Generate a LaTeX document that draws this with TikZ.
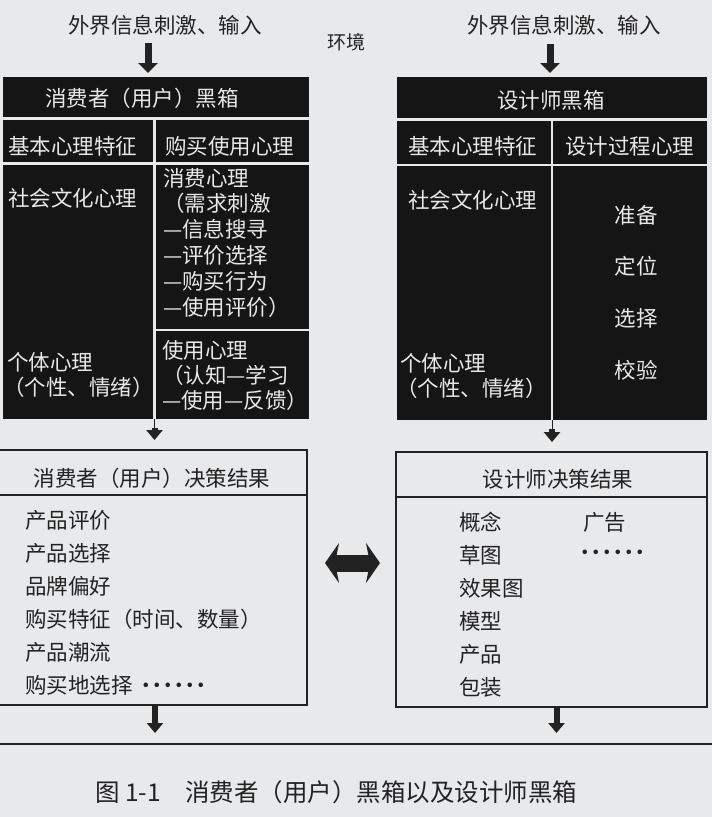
\documentclass[tikz,border=0pt]{standalone}
\usepackage{fontspec}
\newfontfamily\cjk{Noto Sans CJK SC}
\usetikzlibrary{arrows.meta}

\definecolor{paper}{HTML}{E8E9EB}
\definecolor{boxblack}{HTML}{151515}
\definecolor{chalk}{HTML}{E8E8E8}
\definecolor{ink}{HTML}{222222}

% six centred dots
\newcommand\moredots{\makebox[11pt]{·}\makebox[11pt]{·}\makebox[11pt]{·}\makebox[11pt]{·}\makebox[11pt]{·}\makebox[11pt]{·}}

\begin{document}
\begin{tikzpicture}[x=1pt, y=-1pt,
  blackbox/.style={rectangle, fill=boxblack, inner sep=0pt, outer sep=0pt, anchor=north west},
  resbox/.style={rectangle, draw=ink, line width=1.5pt, inner sep=0pt, outer sep=0pt, anchor=north west},
  gap/.style={draw=paper, line width=2.5pt},
  wtxt/.style={text=chalk, inner sep=0pt, font=\cjk\fontsize{21.5}{26}\selectfont},
  btxt/.style={text=ink, inner sep=0pt, font=\cjk\fontsize{21.5}{26}\selectfont},
  fatin/.style={draw=ink, line width=7pt, -{Triangle[width=19pt, length=10pt]}},
  fatout/.style={draw=ink, line width=6pt, -{Triangle[width=16pt, length=10pt]}},
  swap/.style={draw=ink, line width=17pt, {Stealth[width=40pt, length=14pt, inset=4pt]}-{Stealth[width=40pt, length=14pt, inset=4pt]}},
]

  % page
  \useasboundingbox (0,0) rectangle (712,817);
  \fill[paper] (0,0) rectangle (712,817);

  % inputs from the environment
  \node[btxt] (inC) at (165,25) {外界信息刺激、输入};
  \node[btxt] (inD) at (564,25) {外界信息刺激、输入};
  \node[btxt, font=\cjk\fontsize{19}{22}\selectfont] (env) at (346,42) {环境};

  % black boxes
  \node[blackbox, minimum width=306pt, minimum height=342pt] (cbox) at (3,77) {};
  \node[blackbox, minimum width=310pt, minimum height=343pt] (dbox) at (397,77) {};

  % cells of the consumer box
  \draw[gap] (3,118.5) -- (309,118.5);
  \draw[gap] (3,163.5) -- (309,163.5);
  \draw[gap] (154.5,118.5) -- (154.5,419);
  \draw[gap] (154.5,330) -- (309,330);

  % cells of the designer box
  \draw[gap] (397,119.5) -- (707,119.5);
  \draw[gap] (397,165) -- (707,165);
  \draw[gap] (552,119.5) -- (552,420);

  % consumer box texts
  \node[wtxt] (ctitle) at (142,98) {消费者（用户）黑箱};
  \node[wtxt, anchor=west] (cbase) at (8,146) {基本心理特征};
  \node[wtxt, anchor=west] (cbuy) at (165,146) {购买使用心理};
  \node[wtxt, anchor=west] (csoc) at (8,198) {社会文化心理};
  \foreach \t [count=\i] in {消费心理, （需求刺激, —信息搜寻, —评价选择, —购买行为, —使用评价）}
    \node[wtxt, anchor=west] (cxf\i) at (163, {178+25.8*(\i-1)}) {\t};
  \foreach \t [count=\i] in {使用心理, （认知—学习, —使用—反馈）}
    \node[wtxt, anchor=west] (csy\i) at (162, {350+25*(\i-1)}) {\t};
  \node[wtxt, anchor=west] (cind1) at (7,362) {个体心理};
  \node[wtxt, anchor=west] (cind2) at (3,387) {（个性、情绪）};

  % designer box texts
  \node[wtxt] (dtitle) at (551,100) {设计师黑箱};
  \node[wtxt, anchor=west] (dbase) at (408,146) {基本心理特征};
  \node[wtxt, anchor=west] (dproc) at (565,146) {设计过程心理};
  \node[wtxt, anchor=west] (dsoc) at (408,200) {社会文化心理};
  \foreach \t [count=\i] in {准备, 定位, 选择, 校验}
    \node[wtxt] (dstep\i) at (636, {215+51.7*(\i-1)}) {\t};
  \node[wtxt, anchor=west] (dind1) at (400,363) {个体心理};
  \node[wtxt, anchor=west] (dind2) at (396,388) {（个性、情绪）};

  % result boxes
  \node[resbox, minimum width=308pt, minimum height=255pt] (cres) at (-1,450) {};
  \node[resbox, minimum width=311pt, minimum height=255pt] (dres) at (396,452) {};
  \draw[ink, line width=1.5pt] ([yshift=-45pt]cres.north west) -- ([yshift=-45pt]cres.north east);
  \draw[ink, line width=1.5pt] ([yshift=-45pt]dres.north west) -- ([yshift=-45pt]dres.north east);

  \node[btxt] (crtitle) at (152,478) {消费者（用户）决策结果};
  \foreach \t [count=\i] in {产品评价, 产品选择, 品牌偏好, 购买特征（时间、数量）, 产品潮流, 购买地选择\hspace{8pt}\moredots}
    \node[btxt, anchor=west] (crl\i) at (25, {520+33*(\i-1)}) {\t};

  \node[btxt] (drtitle) at (558,479) {设计师决策结果};
  \foreach \t [count=\i] in {概念, 草图, 效果图, 模型, 产品, 包装}
    \node[btxt, anchor=west] (drl\i) at (459, {522+33*(\i-1)}) {\t};
  \node[btxt, anchor=west] (dad) at (583,522) {广告};
  \node[btxt, anchor=west] (dmore) at (580,555) {\moredots};

  % arrows
  \coordinate (cinS) at (148,43);
  \coordinate (dinS) at (550,44);
  \draw[fatin, shorten >=4pt] (cinS) -- (cinS |- cbox.north);
  \draw[fatin, shorten >=4pt] (dinS) -- (dinS |- dbox.north);

  \coordinate (cdiv) at (154.5,419);
  \coordinate (ddiv) at (552,420);
  \draw[ink, line width=1pt] (cdiv) -- ++(0,11);
  \draw[ink, line width=1pt] (ddiv) -- ++(0,11);
  \draw[fatout, shorten >=10pt] (cdiv) ++(0,9) -- (cdiv |- cres.north);
  \draw[fatout, shorten >=10pt] (ddiv) ++(0,9) -- (ddiv |- dres.north);

  \coordinate (swapL) at (325,563);
  \coordinate (swapR) at (380,563);
  \draw[swap] (swapL) -- (swapR);

  % rule and caption
  \coordinate (ruleL) at (0,744);
  \coordinate (ruleR) at (712,744);
  \draw[ink, line width=2pt] (ruleL) -- (ruleR);
  \draw[fatout, shorten >=11pt] ([xshift=2pt]cres.south) -- ([xshift=2pt]cres.south |- ruleL);
  \draw[fatout, shorten >=11pt] ([xshift=5pt]dres.south) -- ([xshift=5pt]dres.south |- ruleL);

  \node[btxt, anchor=west, font=\cjk\fontsize{24.5}{28}\selectfont] (cap) at (95,792) {图 1-1\hspace{1em}消费者（用户）黑箱以及设计师黑箱};

\end{tikzpicture}
\end{document}
